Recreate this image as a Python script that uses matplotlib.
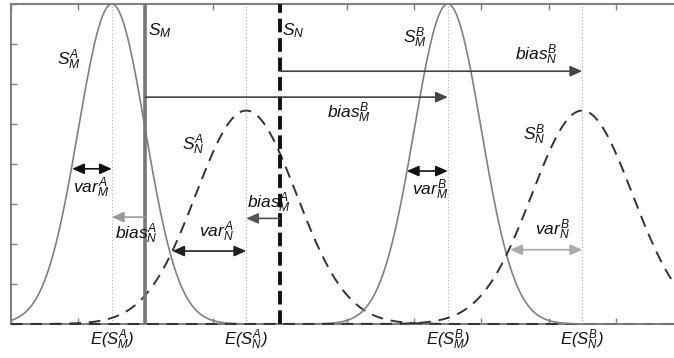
import numpy as np
import matplotlib
matplotlib.use("Agg")
import matplotlib.pyplot as plt

plt.rcParams["font.family"] = ["Liberation Sans", "DejaVu Sans"]
plt.rcParams["mathtext.fontset"] = "custom"
plt.rcParams["mathtext.it"] = "Liberation Sans:italic"
plt.rcParams["mathtext.rm"] = "Liberation Sans:italic"
plt.rcParams["mathtext.cal"] = "Liberation Sans:italic"

# ===== データ =====
# 分布 (平均, 標準偏差, ピーク高さ) : M は実線, N は破線
curve_names = ["MA", "NA", "MB", "NB"]
curve_means = [1.5, 3.5, 6.5, 8.5]
curve_sigmas = [0.5, 0.75, 0.5, 0.75]
curve_peaks = [1.0, 0.667, 1.0, 0.667]
curve_dashed = [False, True, False, True]

# 閾値の縦線
s_m_pos = 2.0
s_n_pos = 4.0

# 矢印 (x始点, x終点, y, 両矢印か, 線色)
arrow_x0 = [0.91, 2.40, 5.89, 7.43, 4.0, 2.0, 2.0, 4.0]
arrow_x1 = [1.50, 3.50, 6.50, 8.50, 8.5, 6.5, 1.5, 3.5]
arrow_y = [0.485, 0.228, 0.478, 0.232, 0.79, 0.709, 0.334, 0.33]
arrow_both = [True, True, True, True, False, False, False, False]
arrow_color = ["#111111", "#222222", "#111111", "#aaaaaa",
               "#444444", "#444444", "#999999", "#555555"]

# ラベル (テキスト, x, y)
label_text = [r"$S_M$", r"$S_N$", r"$S_M^A$", r"$S_N^A$", r"$S_M^B$", r"$S_N^B$",
              r"$bias_N^B$", r"$bias_M^B$", r"$var_M^A$", r"$bias_N^A$",
              r"$bias_M^A$", r"$var_N^A$", r"$var_M^B$", r"$var_N^B$"]
label_x = [2.04, 4.03, 0.68, 2.54, 5.83, 7.62, 7.50, 4.70, 0.92, 1.55,
           3.51, 2.80, 5.97, 7.80]
label_y = [0.903, 0.903, 0.809, 0.544, 0.878, 0.575, 0.825, 0.644, 0.409, 0.266,
           0.3625, 0.272, 0.403, 0.278]

# x 軸下の期待値ラベル
exp_labels = [r"$E(S_M^A)$", r"$E(S_N^A)$", r"$E(S_M^B)$", r"$E(S_N^B)$"]

# ===== 描画 =====
W, H = 674, 358
fig = plt.figure(figsize=(W / 100, H / 100), dpi=100)
ax = fig.add_axes([11 / W, 34 / H, 672 / W, 320 / H])
ax.set_xlim(0, 10)
ax.set_ylim(0, 1)

x = np.linspace(0, 10, 1200)
for mu, sd, pk, dashed in zip(curve_means, curve_sigmas, curve_peaks, curve_dashed):
    y = pk * np.exp(-(x - mu) ** 2 / (2 * sd ** 2))
    if dashed:
        ax.plot(x, y, color="#333333", lw=1.4, dashes=(6, 4), clip_on=False, zorder=3)
    else:
        ax.plot(x, y, color="#808080", lw=1.2, clip_on=False, zorder=3)
    ax.axvline(mu, color="#aaaaaa", lw=0.8, ls=(0, (1, 2)), zorder=1)

ax.axvline(s_m_pos, color="#777777", lw=2.6, zorder=4)
ax.axvline(s_n_pos, color="#111111", lw=2.8, dashes=(3.5, 1.5), zorder=4)

for x0, x1, yy, both, c in zip(arrow_x0, arrow_x1, arrow_y, arrow_both, arrow_color):
    style = "<|-|>" if both else "-|>"
    ax.annotate("", xy=(x1, yy), xytext=(x0, yy),
                arrowprops=dict(arrowstyle=style + ",head_length=0.45,head_width=0.2",
                                mutation_scale=16, color=c, lw=1.2,
                                shrinkA=0, shrinkB=0), zorder=5)

for t, lx, ly in zip(label_text, label_x, label_y):
    ax.text(lx, ly, t, fontsize=12.5, color="#111111", ha="left", va="baseline", zorder=6)

for t, mu in zip(exp_labels, curve_means):
    ax.text(mu, -0.066, t, fontsize=12, color="#111111", ha="center", va="baseline",
            clip_on=False)

ax.set_xticks(np.arange(0, 11, 1))
ax.set_yticks(np.arange(0, 1.01, 0.125))
ax.set_xticklabels([])
ax.set_yticklabels([])
ax.tick_params(direction="in", length=4, color="#808080", width=1,
               top=True, right=True)
for sp in ax.spines.values():
    sp.set_color("#808080")
    sp.set_linewidth(1.5)

fig.savefig("out.png", dpi=100)
